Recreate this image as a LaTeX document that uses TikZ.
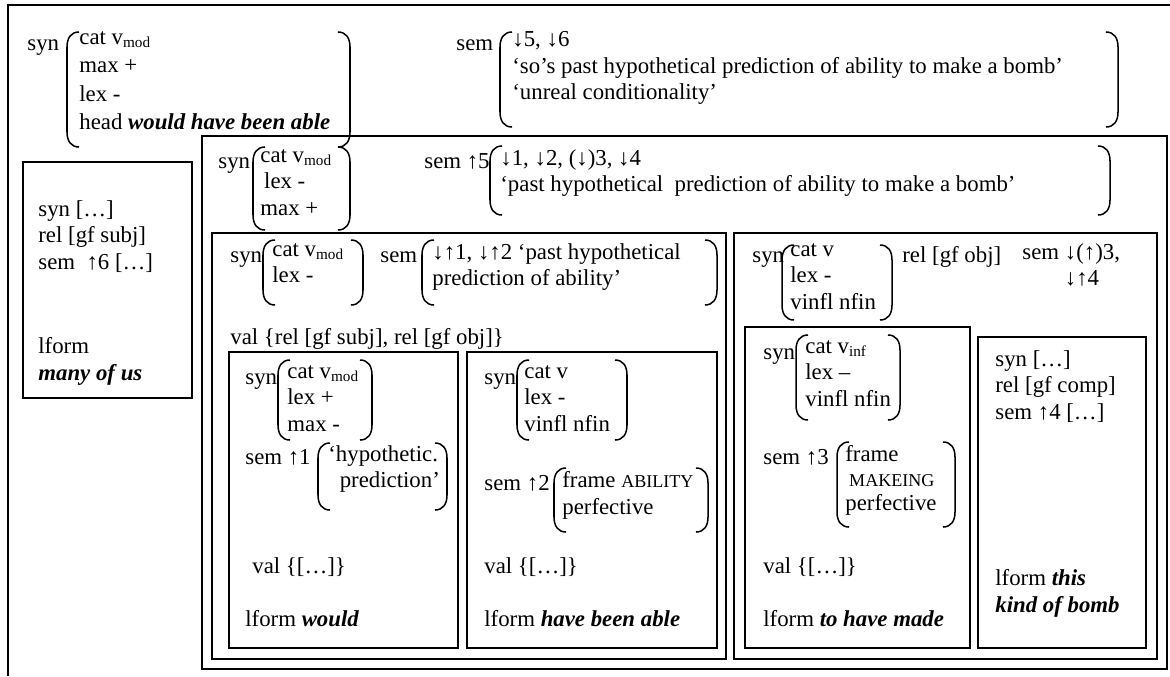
\documentclass[tikz,border=0pt]{standalone}
\usepackage{fontspec}
\setmainfont{Liberation Serif}
\usepackage{tikz}

% small uppercase for frame names
\newcommand{\smcap}[1]{{\fontsize{9.5}{14}\selectfont #1}}
% round bracket pair: left x, top y, right x, bottom y
\newcommand{\bracketpair}[4]{%
  \draw[brk] (#1+12,#2) .. controls (#1+4,#2) and (#1,#2+6) .. (#1,#2+15) -- (#1,#4-15) .. controls (#1,#4-6) and (#1+4,#4) .. (#1+12,#4);
  \draw[brk] (#3-12,#2) .. controls (#3-4,#2) and (#3,#2+6) .. (#3,#2+15) -- (#3,#4-15) .. controls (#3,#4-6) and (#3-4,#4) .. (#3-12,#4);}

\begin{document}
\begin{tikzpicture}[
		x=0.526pt, y=-0.526pt,
		every node/.style={inner sep=0pt, anchor=north west, align=left, font=\fontsize{12}{14}\selectfont, execute at begin node=\strut},
		frame/.style={draw=black, line width=1.1pt},
		box/.style={draw=black, line width=0.7pt},
		brk/.style={draw=black, line width=0.8pt}
		]
		\useasboundingbox (0,0) rectangle (1170,676);
		
		% Outer frame
		\draw[frame] (8,676) -- (8,5) -- (1170,5);
		
		% Top level syn and sem
		\node (synTop) at (27,31) {syn};
		\node (synTopVal) at (79,31) {cat v\textsubscript{mod}\\[1pt] max +\\[1pt] lex -\\[1pt] head \textbf{\textit{would have been able}}};
		\bracketpair{67}{32}{350}{147}
		\node (semTop) at (456,31) {sem};
		\node (semTopVal) at (512,31) {↓5, ↓6\\ ‘so’s past hypothetical prediction of ability to make a bomb’\\ ‘unreal conditionality’};
		\bracketpair{500}{32}{1118}{127}
		
		% Subject: many of us
		\draw[box] (23,162) rectangle (192,398);
		\node (subj) at (38,200) {syn […]\\ rel [gf subj]\\ sem\enspace↑6 […]};
		\node (subjForm) at (38,337) {lform\\ \textbf{\textit{many of us}}};
		
		% Head box
		\draw[box] (202,136) rectangle (1167,669);
		\node (synHead) at (218,149) {syn};
		\node (synHeadVal) at (260,149) {cat v\textsubscript{mod}\\ \,lex -\\ max +};
		\bracketpair{253}{147}{350}{230}
		\node (semHead) at (424,149) {sem\ ↑5};
		\node (semHeadVal) at (500,149) {↓1, ↓2, (↓)3, ↓4\\ ‘past hypothetical\ \ prediction of ability to make a bomb’};
		\bracketpair{490}{146}{1110}{215}
		
		% Modal part
		\draw[box] (212,233) rectangle (726,659);
		\node (synMod) at (230,243) {syn};
		\node (synModVal) at (272,243) {cat v\textsubscript{mod}\\ lex -};
		\bracketpair{263}{240}{363}{305}
		\node (semMod) at (380,243) {sem};
		\node (semModVal) at (432,243) {↓↑1, ↓↑2 ‘past hypothetical\\ prediction of ability’};
		\bracketpair{422}{240}{717}{305}
		\node (valMod) at (230,325) {val \{rel [gf subj], rel [gf obj]\}};
		
		% would
		\draw[box] (229,352) rectangle (458,648);
		\node (synWould) at (245,365) {syn};
		\node (synWouldVal) at (287,365) {cat v\textsubscript{mod}\\ lex +\\ max -};
		\bracketpair{278}{360}{372}{440}
		\node (semWould) at (245,445) {sem ↑1};
		\node (semWouldVal) at (328,445) {‘hypothetic.\\ \ \ prediction’};
		\bracketpair{318}{443}{447}{510}
		\node (valWould) at (252,554) {val \{[…]\}};
		\node (formWould) at (245,607) {lform \textbf{\textit{would}}};
		
		% have been able
		\draw[box] (467,352) rectangle (717,648);
		\node (synAble) at (484,365) {syn};
		\node (synAbleVal) at (524,365) {cat v\\ lex -\\ vinfl nfin};
		\bracketpair{517}{360}{627}{440}
		\node (semAble) at (484,471) {sem ↑2};
		\node (semAbleVal) at (562,471) {frame \smcap{ABILITY}\\ perfective};
		\bracketpair{554}{468}{708}{532}
		\node (valAble) at (484,554) {val \{[…]\}};
		\node (formAble) at (484,607) {lform \textbf{\textit{have been able}}};
		
		% Object part
		\draw[box] (734,233) rectangle (1157,659);
		\node (synObj) at (752,243) {syn};
		\node (synObjVal) at (790,243) {cat v\\ lex -\\ vinfl nfin};
		\bracketpair{782}{245}{892}{320}
		\node (relObj) at (902,243) {rel [gf obj]};
		\node (semObj) at (1022,243) {sem ↓(↑)3,\\ \phantom{sem }↓↑4};
		
		% to have made
		\draw[box] (745,327) rectangle (970,648);
		\node (synMade) at (763,340) {syn};
		\node (synMadeVal) at (805,340) {cat v\textsubscript{inf}\\ lex –\\ vinfl nfin};
		\bracketpair{796}{335}{900}{420}
		\node (semMade) at (763,445) {sem ↑3};
		\node (semMadeVal) at (845,445) {frame\\[-1pt] \,\smcap{MAKEING}\\[-1pt] perfective};
		\bracketpair{837}{442}{955}{527}
		\node (valMade) at (763,554) {val \{[…]\}};
		\node (formMade) at (763,607) {lform \textbf{\textit{to have made}}};
		
		% this kind of bomb
		\draw[box] (978,337) rectangle (1146,648);
		\node (comp) at (995,350) {syn […]\\ rel [gf comp]\\ sem ↑4 […]};
		\node (compForm) at (995,569) {lform \textbf{\textit{this}}\\ \textbf{\textit{kind of bomb}}};
		
	\end{tikzpicture}
\end{document}
